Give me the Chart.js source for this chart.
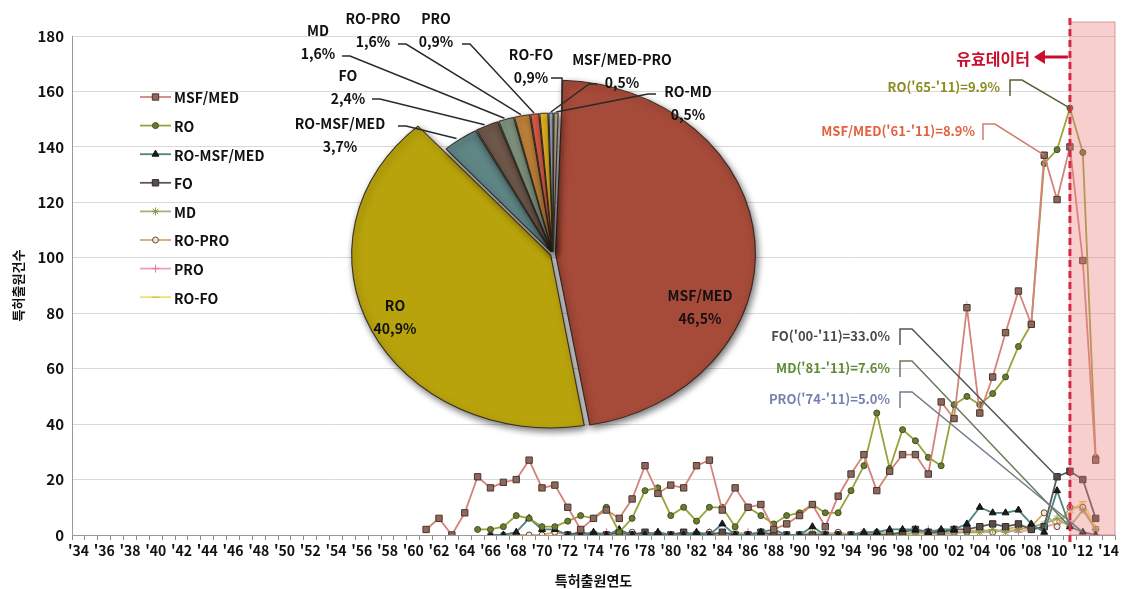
<!DOCTYPE html>
<html lang="ko">
<head>
<meta charset="UTF-8">
<title>특허출원 추이</title>
<style>
  body { margin: 0; background: #fff; }
  .wrap { position: relative; width: 1125px; height: 589px; }
  .wrap canvas { position: absolute; left: 0; top: 0; }
</style>
</head>
<body>
<div class="wrap">
  <canvas id="lineChart" width="1125" height="589"></canvas>
  <canvas id="pieChart" width="1125" height="589"></canvas>
</div>

<script src="https://cdn.jsdelivr.net/npm/chart.js"></script>
<script>
// ---- data ----
const firstYear = 1934, lastYear = 2014;
const years = [];
for (let y = firstYear; y <= lastYear; y++) years.push(y);
const tickLabels = years.map(y => "'" + String(y % 100).padStart(2, '0'));

const msfMedStart = 1961;
const msfMedValues = [2, 6, 0, 8, 21, 17, 19, 20, 27, 17,
  18, 10, 2, 6, 9, 6, 13, 25, 15, 18,
  17, 25, 27, 9, 17, 10, 11, 2, 4, 7,
  11, 3, 14, 22, 29, 16, 23, 29, 29, 22,
  48, 42, 82, 44, 57, 73, 88, 76, 137, 121,
  140, 99, 27];

const roStart = 1965;
const roValues = [2, 2, 3, 7, 6, 3,
  3, 5, 7, 6, 10, 1, 6, 16, 17, 7,
  10, 5, 10, 10, 3, 10, 7, 4, 7, 8,
  11, 8, 8, 16, 25, 44, 24, 38, 34, 28,
  25, 47, 50, 47, 51, 57, 68, 76, 134, 139,
  154, 138, 28];

const roMsfStart = 1966;
const roMsfValues = [0, 0, 1, 6, 2,
  2, 0, 0, 1, 0, 2, 0, 0, 1, 0,
  0, 1, 0, 4, 0, 0, 1, 2, 0, 0,
  3, 0, 0, 0, 1, 1, 2, 2, 2, 1,
  2, 2, 4, 10, 8, 8, 9, 4, 1, 16,
  3, 1, 0];

const foStart = 1972;
const foValues = [0, 1, 0, 0, 1, 0, 1, 0, 0,
  1, 0, 0, 1, 0, 0, 1, 0, 0, 0,
  0, 0, 0, 0, 0, 0, 0, 1, 2, 1,
  1, 2, 2, 3, 4, 3, 4, 2, 3, 21,
  23, 20, 6];

const mdStart = 1981;
const mdValues = [0, 0, 0, 0, 1, 0, 0, 0, 0, 0,
  1, 0, 0, 0, 1, 0, 1, 0, 1, 1,
  0, 1, 1, 1, 2, 1, 2, 3, 4, 6,
  3, 9, 2];

const roProStart = 1966;
const roProValues = [0, 0, 0, 0, 0,
  1, 0, 0, 0, 0, 0, 1, 0, 0, 0,
  0, 0, 1, 0, 0, 0, 0, 1, 0, 0,
  0, 0, 1, 0, 0, 1, 0, 0, 1, 0,
  1, 1, 1, 2, 1, 2, 3, 3, 8, 3,
  10, 10, 2];

const proStart = 1974;
const proValues = [0, 1, 0, 0, 0, 1, 0,
  0, 0, 1, 0, 0, 1, 0, 0, 0, 0,
  0, 1, 0, 0, 0, 1, 0, 0, 1, 2,
  1, 0, 2, 1, 1, 2, 1, 2, 3, 4,
  5, 1, 0];

const roFoStart = 1990;
const roFoValues = [0,
  0, 0, 0, 0, 1, 0, 0, 1, 0, 1,
  1, 1, 1, 1, 2, 1, 2, 2, 3, 4,
  8, 12, 3];

const validUntil = 2011;

const pieLabels = ['MSF/MED', 'RO', 'RO-MSF/MED', 'FO', 'MD', 'RO-PRO', 'PRO', 'RO-FO', 'MSF/MED-PRO', 'RO-MD'];
const pieShares = [46.5, 40.9, 3.7, 2.4, 1.6, 1.6, 0.9, 0.9, 0.5, 0.5];

const growthTexts = ["RO('65-'11)=9.9%", "MSF/MED('61-'11)=8.9%", "FO('00-'11)=33.0%", "MD('81-'11)=7.6%", "PRO('74-'11)=5.0%"];

function onYears(start, vals) {
  return years.map(y => (y >= start && y - start < vals.length) ? vals[y - start] : null);
}

const FONT = '"Noto Sans CJK KR", "Noto Sans", sans-serif';

// ---- line chart ----
const datasets = [
  { label: 'MSF/MED', data: onYears(msfMedStart, msfMedValues), borderColor: '#d5837a', pointBackgroundColor: '#8a6a5e', pointBorderColor: '#4f342b', pointStyle: 'rect', pointRadius: 4.5 },
  { label: 'RO', data: onYears(roStart, roValues), borderColor: '#9aa23a', pointBackgroundColor: '#6b7b33', pointBorderColor: '#3f4f1f', pointStyle: 'circle', pointRadius: 3 },
  { label: 'RO-MSF/MED', data: onYears(roMsfStart, roMsfValues), borderColor: '#4f8282', pointBackgroundColor: '#1c1c1c', pointBorderColor: '#111', pointStyle: 'triangle', pointRadius: 4 },
  { label: 'FO', data: onYears(foStart, foValues), borderColor: '#5a5a5a', pointBackgroundColor: '#5b4d45', pointBorderColor: '#2e2e2e', pointStyle: 'rect', pointRadius: 4.5 },
  { label: 'MD', data: onYears(mdStart, mdValues), borderColor: '#a7b27a', pointBackgroundColor: '#8a9a4a', pointBorderColor: '#8a9a4a', pointStyle: 'star', pointRadius: 4 },
  { label: 'RO-PRO', data: onYears(roProStart, roProValues), borderColor: '#dba86a', pointBackgroundColor: '#f2e6d6', pointBorderColor: '#5e4a3c', pointStyle: 'circle', pointRadius: 3 },
  { label: 'PRO', data: onYears(proStart, proValues), borderColor: '#f0a0b4', pointBackgroundColor: '#e27a96', pointBorderColor: '#e27a96', pointStyle: 'cross', pointRadius: 4 },
  { label: 'RO-FO', data: onYears(roFoStart, roFoValues), borderColor: '#f0e070', pointBackgroundColor: '#d8b830', pointBorderColor: '#d8b830', pointStyle: 'line', pointRadius: 4 }
].map(d => Object.assign({ borderWidth: 1.8, pointBorderWidth: 1, tension: 0, fill: false }, d));

// where the growth-rate labels sit and which point each leader goes to
const growthSpots = [
  { tx: 1000, ty: 87, bx: 1010, color: '#8b8b1e', line: '#5e5e3a', series: 1, year: 2011 },
  { tx: 975, ty: 131, bx: 983, color: '#e2603c', line: '#cf7c70', series: 0, year: 2009 },
  { tx: 890, ty: 336, bx: 900, color: '#4a4a4a', line: '#555555', series: 3, year: 2010 },
  { tx: 890, ty: 368, bx: 900, color: '#5f8a34', line: '#6b7a5a', series: 4, year: 2011 },
  { tx: 890, ty: 399, bx: 900, color: '#7682ad', line: '#6f7c8a', series: 6, year: 2012 }
];

function marker(ctx, ds, x, y) {
  ctx.fillStyle = ds.pointBackgroundColor;
  ctx.strokeStyle = ds.pointBorderColor;
  ctx.lineWidth = 1;
  if (Chart.helpers && Chart.helpers.drawPoint) {
    Chart.helpers.drawPoint(ctx, { pointStyle: ds.pointStyle, radius: ds.pointRadius, rotation: 0, borderWidth: 1 }, x, y);
  } else {
    ctx.beginPath(); ctx.arc(x, y, 3, 0, Math.PI * 2); ctx.fill(); ctx.stroke();
  }
}

const overlay = {
  id: 'overlay',
  afterDatasetsDraw(chart) {
    const { ctx, chartArea } = chart;
    const xs = chart.scales.x;
    const xv = xs.getPixelForValue(years.indexOf(validUntil));
    ctx.save();

    // shaded area after the valid data year
    ctx.fillStyle = 'rgba(236,128,128,0.38)';
    ctx.fillRect(xv, 22, chartArea.right - xv, chartArea.bottom - 22);
    ctx.strokeStyle = 'rgba(205,120,120,0.7)';
    ctx.lineWidth = 1;
    ctx.strokeRect(xv, 22, chartArea.right - xv, chartArea.bottom - 22);

    ctx.strokeStyle = '#d42a46';
    ctx.lineWidth = 3;
    ctx.setLineDash([7, 4]);
    ctx.beginPath();
    ctx.moveTo(xv, 18);
    ctx.lineTo(xv, chartArea.bottom + 10);
    ctx.stroke();
    ctx.setLineDash([]);

    ctx.fillStyle = '#c8102e';
    ctx.font = 'bold 16px ' + FONT;
    ctx.textAlign = 'right';
    ctx.textBaseline = 'middle';
    ctx.fillText('유효데이터', xv - 40, 59);
    ctx.strokeStyle = '#c8102e';
    ctx.lineWidth = 3;
    ctx.beginPath();
    ctx.moveTo(xv - 2, 57);
    ctx.lineTo(xv - 32, 57);
    ctx.stroke();
    ctx.beginPath();
    ctx.moveTo(xv - 36, 57);
    ctx.lineTo(xv - 25, 50);
    ctx.lineTo(xv - 25, 64);
    ctx.closePath();
    ctx.fill();

    // growth-rate labels with leaders
    ctx.font = 'bold 13px ' + FONT;
    growthSpots.forEach((g, i) => {
      const pt = chart.getDatasetMeta(g.series).data[years.indexOf(g.year)];
      ctx.fillStyle = g.color;
      ctx.textAlign = 'right';
      ctx.fillText(growthTexts[i], g.tx, g.ty);
      ctx.strokeStyle = g.line;
      ctx.lineWidth = 1.5;
      ctx.beginPath();
      ctx.moveTo(g.bx, g.ty + 9);
      ctx.lineTo(g.bx, g.ty - 7);
      ctx.lineTo(g.bx + 12, g.ty - 7);
      ctx.lineTo(pt.x, pt.y);
      ctx.stroke();
    });

    // legend (line + marker)
    ctx.font = 'bold 14px ' + FONT;
    ctx.textAlign = 'left';
    chart.data.datasets.forEach((ds, i) => {
      const y = 97 + i * 28.6;
      ctx.strokeStyle = ds.borderColor;
      ctx.lineWidth = 1.8;
      ctx.beginPath();
      ctx.moveTo(140, y);
      ctx.lineTo(171, y);
      ctx.stroke();
      marker(ctx, ds, 155.5, y);
      ctx.fillStyle = '#111';
      ctx.fillText(ds.label, 174, y + 1);
    });
    ctx.restore();
  }
};

new Chart(document.getElementById('lineChart'), {
  type: 'line',
  data: { labels: tickLabels, datasets: datasets },
  options: {
    responsive: false,
    animation: false,
    events: [],
    layout: { padding: { left: 10, right: 10, top: 36, bottom: 0 } },
    plugins: { legend: { display: false }, tooltip: { enabled: false } },
    scales: {
      x: {
        offset: true,
        grid: { display: true, drawOnChartArea: false, offset: true, tickLength: 5, color: '#8c8c8c' },
        border: { color: '#9a9a9a' },
        ticks: {
          autoSkip: false, maxRotation: 0, minRotation: 0, padding: 2, color: '#111',
          font: { family: FONT, size: 14, weight: 'bold' },
          callback: (v, i) => (i % 2 === 0 ? tickLabels[i] : '')
        },
        title: { display: true, text: '특허출원연도', color: '#111', font: { family: FONT, size: 14, weight: 'bold' }, padding: { top: 1, bottom: 0 } },
        afterFit: s => { s.height = 54; }
      },
      y: {
        min: 0, max: 180,
        ticks: { stepSize: 20, padding: 8, color: '#111', font: { family: FONT, size: 15, weight: 'bold' } },
        grid: { color: '#d9d9d9', drawTicks: false },
        border: { color: '#9a9a9a' },
        title: { display: true, text: '특허출원건수', color: '#111', font: { family: FONT, size: 13, weight: 'bold' }, padding: { top: 0, bottom: 0 } },
        afterFit: s => { s.width = 62; }
      }
    }
  },
  plugins: [overlay]
});

// ---- pie inset ----
const SX = 1.15;
const pieColors = ['#a64a39', '#b9a30c', '#5f8585', '#6e584a', '#7f9580', '#c0823a', '#e0604a', '#e8b820', '#9ab7c9', '#b5a48a'];
const pieSpots = [
  { x: 700, y: 296, inside: true },
  { x: 395, y: 306, inside: true },
  { x: 340, y: 124, from: [398, 126] },
  { x: 348, y: 76, from: [372, 99] },
  { x: 318, y: 31, from: [342, 56] },
  { x: 373, y: 19, from: [398, 44] },
  { x: 436, y: 19, from: [462, 44] },
  { x: 531, y: 55, from: [551, 78], elbow: true },
  { x: 622, y: 60, from: [597, 84] },
  { x: 688, y: 92, from: [656, 94] }
];

const pieLook = {
  id: 'pieLook',
  afterDatasetsUpdate(chart) {
    chart.getDatasetMeta(0).data.forEach((arc, i) => { if (i >= 2) arc.outerRadius = 136; });
  },
  beforeDatasetsDraw(chart) {
    const ctx = chart.ctx, c = chart.getDatasetMeta(0).data[0];
    ctx.save();
    ctx.translate(c.x, c.y);
    ctx.scale(SX, 1);
    ctx.translate(-c.x, -c.y);
    ctx.shadowColor = 'rgba(0,0,0,0.55)';
    ctx.shadowBlur = 7;
    ctx.shadowOffsetX = 2;
    ctx.shadowOffsetY = 3;
  },
  afterDatasetsDraw(chart) {
    const ctx = chart.ctx;
    ctx.restore();
    ctx.save();
    const arcs = chart.getDatasetMeta(0).data;
    const offsets = chart.data.datasets[0].offset;
    ctx.font = 'bold 14px ' + FONT;
    ctx.textAlign = 'center';
    ctx.textBaseline = 'middle';
    ctx.fillStyle = '#111';
    ctx.strokeStyle = '#2a2a2a';
    ctx.lineWidth = 1.5;
    pieSpots.forEach((s, i) => {
      const pct = pieShares[i].toFixed(1).replace('.', ',') + '%';
      ctx.fillText(pieLabels[i], s.x, s.y);
      ctx.fillText(pct, s.x, s.y + 23);
      if (s.inside) return;
      const arc = arcs[i];
      const a = (arc.startAngle + arc.endAngle) / 2;
      const r = arc.outerRadius + offsets[i];
      const tx = arc.x + Math.cos(a) * r * SX;
      const ty = arc.y + Math.sin(a) * r + 4;
      ctx.beginPath();
      ctx.moveTo(s.from[0], s.from[1]);
      if (s.elbow) {
        ctx.lineTo(s.from[0] + 11, s.from[1]);
        ctx.lineTo(s.from[0] + 11, ty);
      } else {
        const dir = s.from[0] < tx ? 1 : -1;
        ctx.lineTo(s.from[0] + dir * 8, s.from[1]);
        ctx.lineTo(tx, ty);
      }
      ctx.stroke();
    });
    ctx.restore();
  }
};

new Chart(document.getElementById('pieChart'), {
  type: 'pie',
  data: {
    labels: pieLabels,
    datasets: [{
      data: pieShares,
      backgroundColor: pieColors,
      borderColor: 'rgba(45,35,30,0.9)',
      borderWidth: 1,
      offset: [9, 9, 10, 10, 10, 10, 10, 10, 10, 10],
      radius: 172,
      rotation: 2
    }]
  },
  options: {
    responsive: false,
    animation: false,
    events: [],
    layout: { padding: { left: 0, top: 0, right: 19, bottom: 81 } },
    plugins: { legend: { display: false }, tooltip: { enabled: false } }
  },
  plugins: [pieLook]
});
</script>
</body>
</html>
